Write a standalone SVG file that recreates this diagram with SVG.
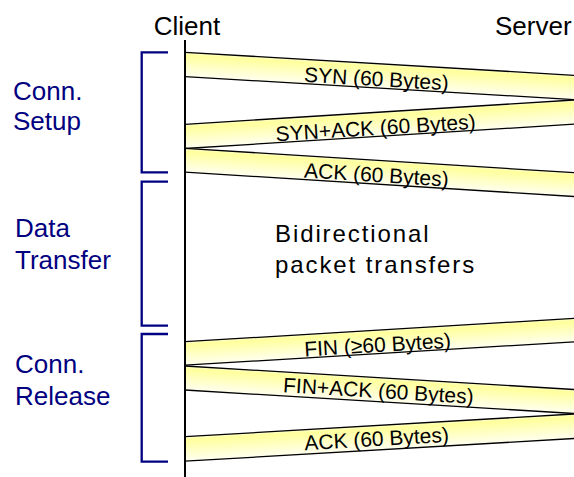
<svg xmlns="http://www.w3.org/2000/svg" width="574" height="477" viewBox="0 0 574 477">
<style>
.hdr{font-family:"Liberation Sans",Arial,sans-serif;font-size:26px;fill:#000}
.phase{font-family:"Liberation Sans",Arial,sans-serif;font-size:26px;fill:#000080}
.brk{fill:none;stroke:#000080;stroke-width:2.3}
.band{fill:url(#bandGrad)}
.edge{stroke:#000;stroke-width:1.3}
.lbl{font-family:"Liberation Sans",Arial,sans-serif;font-size:21px;fill:#000;text-anchor:middle}
.mid{font-family:"Liberation Sans",Arial,sans-serif;font-size:24px;fill:#000;letter-spacing:1.9px}
</style>
<defs>
<linearGradient id="bandGrad" x1="0" y1="0" x2="0" y2="1">
<stop offset="0" stop-color="#ffffd0"/>
<stop offset="0.12" stop-color="#ffff9c"/>
<stop offset="1" stop-color="#fffff0"/>
</linearGradient>
</defs>
<rect width="574" height="477" fill="#fff"/>

<g id="client">
<text class="hdr" x="187" y="35" text-anchor="middle">Client</text>
</g>
<g id="server">
<text class="hdr" x="495" y="35">Server</text>
</g>

<g id="connectors">
<g id="syn">
<g transform="translate(185,52.3) skewY(3.384)">
<rect class="band" x="0" y="0" width="395" height="24.3"/>
<line class="edge" x1="0" y1="0" x2="395" y2="0"/>
<line class="edge" x1="0" y1="24.3" x2="395" y2="24.3"/>
</g>
<text class="lbl" transform="translate(376,86) rotate(3.38)">SYN (60 Bytes)</text>
</g>
<g id="synack">
<g transform="translate(185,124.3) skewY(-3.575)">
<rect class="band" x="0" y="0" width="395" height="24.2"/>
<line class="edge" x1="0" y1="0" x2="395" y2="0"/>
<line class="edge" x1="0" y1="24.2" x2="395" y2="24.2"/>
</g>
<text class="lbl" transform="translate(376,135) rotate(-3.58)">SYN+ACK (60 Bytes)</text>
</g>
<g id="ack1">
<g transform="translate(185,148.3) skewY(3.59)">
<rect class="band" x="0" y="0" width="395" height="23.8"/>
<line class="edge" x1="0" y1="0" x2="395" y2="0"/>
<line class="edge" x1="0" y1="23.8" x2="395" y2="23.8"/>
</g>
<text class="lbl" transform="translate(376,182) rotate(3.59)">ACK (60 Bytes)</text>
</g>
<g id="fin">
<g transform="translate(185,341.7) skewY(-3.44)">
<rect class="band" x="0" y="0" width="395" height="23.5"/>
<line class="edge" x1="0" y1="0" x2="395" y2="0"/>
<line class="edge" x1="0" y1="23.5" x2="395" y2="23.5"/>
</g>
<text class="lbl" transform="translate(378,352) rotate(-3.44)">FIN (≥60 Bytes)</text>
</g>
<g id="finack">
<g transform="translate(185,366) skewY(3.457)">
<rect class="band" x="0" y="0" width="395" height="24"/>
<line class="edge" x1="0" y1="0" x2="395" y2="0"/>
<line class="edge" x1="0" y1="24" x2="395" y2="24"/>
</g>
<text class="lbl" transform="translate(378,398) rotate(3.46)">FIN+ACK (60 Bytes)</text>
</g>
<g id="ack2">
<g transform="translate(185,436.7) skewY(-3.34)">
<rect class="band" x="0" y="0" width="395" height="24.5"/>
<line class="edge" x1="0" y1="0" x2="395" y2="0"/>
<line class="edge" x1="0" y1="24.5" x2="395" y2="24.5"/>
</g>
<text class="lbl" transform="translate(377,446) rotate(-3.34)">ACK (60 Bytes)</text>
</g>
</g>

<g id="client-line">
<line x1="185" y1="40" x2="185" y2="477" stroke="#000" stroke-width="2"/>
</g>

<g id="phase-setup">
<path class="brk" d="M168,52.3 H141.7 V172.3 H168"/>
<text class="phase" x="13" y="99.5">Conn.</text>
<text class="phase" x="13" y="130">Setup</text>
</g>
<g id="phase-transfer">
<path class="brk" d="M168,181.7 H141.7 V325.7 H168"/>
<text class="phase" x="15" y="237">Data</text>
<text class="phase" x="15" y="269">Transfer</text>
</g>
<g id="phase-release">
<path class="brk" d="M168,334 H141.7 V461.7 H168"/>
<text class="phase" x="15" y="373.3">Conn.</text>
<text class="phase" x="15" y="405">Release</text>
</g>

<g id="bidirectional">
<text class="mid" x="275" y="241.7">Bidirectional</text>
<text class="mid" x="275" y="273.3">packet transfers</text>
</g>
</svg>
